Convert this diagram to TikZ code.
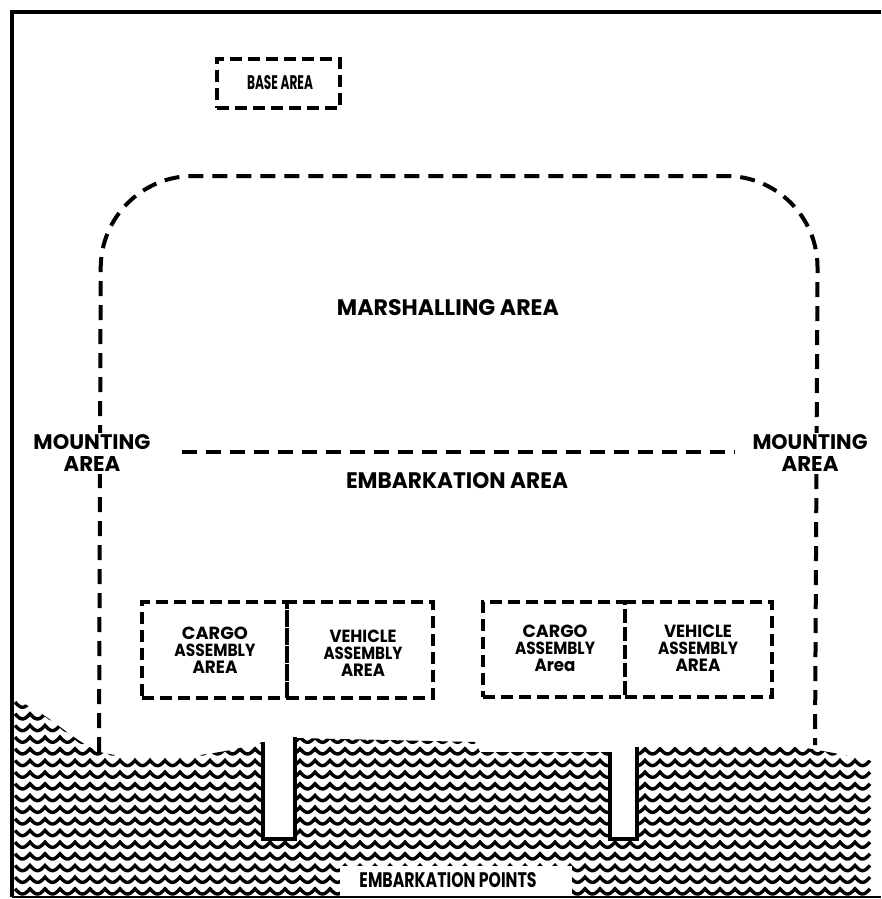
\documentclass[tikz,border=0pt]{standalone}
\usepackage{fontspec}
\usepackage{graphicx}
\setmainfont{Poppins}
\newcommand{\fitt}[3]{\resizebox{#1pt}{#2pt}{\bfseries #3}}
\begin{document}
\begin{tikzpicture}[x=1pt,y=-1pt,
  dbox/.style={draw, line width=3.6pt, dash pattern=on 12pt off 6pt, inner sep=0pt},
  bigdash/.style={draw, line width=4pt, dash pattern=on 15pt off 9pt},
  lab/.style={inner sep=0pt, align=center, font=\fontsize{12}{17}\selectfont},
  mlab/.style={fill=white, inner sep=2pt, align=center, font=\fontsize{15}{22}\selectfont},
  wave/.style={line width=3.4pt}]
\useasboundingbox (0,0) rectangle (881,899);
\fill[white] (0,0) rectangle (881,899);

% marshalling / mounting boundary
\coordinate (mbl) at (99,752);
\coordinate (mtl) at (101,176);
\coordinate (mtr) at (818,176);
\coordinate (mbr) at (815,745);
\draw[bigdash, rounded corners=92pt] (mbl) -- (mtl) -- (mtr) -- (mbr);
\coordinate (divl) at (182,452);
\coordinate (divr) at (735,452);
\draw[bigdash] (divl) -- (divr);

% water
\begin{scope}
\clip (12,700) .. controls (40,705) and (70,740) .. (100,752)
  .. controls (140,762) and (200,760) .. (263,742) -- (263,838) -- (295,838)
  -- (295,738) -- (475,742) -- (480,752) -- (610,752) -- (610,838) -- (637,838)
  -- (637,747) -- (800,747) .. controls (830,752) and (860,758) .. (877,762)
  -- (877,897) -- (12,897) -- cycle;
\foreach \k in {0,...,16}
  \draw[wave] plot[domain=15:870,samples=913] (\x,{894-11.67*\k-5.2*(1-abs(sin(12*\x)))});
\end{scope}
\fill[white] (340,866) rectangle (572,897);

% piers
\coordinate (p1a) at (263,742); \coordinate (p1b) at (263,839);
\coordinate (p1c) at (295,839); \coordinate (p1d) at (295,737);
\draw[line width=3.4pt] (p1a) -- (p1b) -- (p1c) -- (p1d);
\coordinate (p2a) at (610,752); \coordinate (p2b) at (610,839);
\coordinate (p2c) at (637,839); \coordinate (p2d) at (637,747);
\draw[line width=3.4pt] (p2a) -- (p2b) -- (p2c) -- (p2d);

% frame
\draw[line width=3.5pt] (881,12) -- (12,12) -- (12,897);
\draw[line width=2pt] (12,897) -- (881,897);

% boxes
\node[dbox, minimum width=123pt, minimum height=49pt] (base) at (278.5,83.5) {};
\node[dbox, minimum width=145pt, minimum height=96pt] (cargoL) at (214.5,650) {};
\node[dbox, minimum width=146pt, minimum height=96pt] (vehL) at (360,650) {};
\node[dbox, minimum width=142pt, minimum height=95pt] (cargoR) at (554,649.5) {};
\node[dbox, minimum width=147pt, minimum height=95pt] (vehR) at (698.5,649.5) {};

% labels
\node[inner sep=0pt] (tbase) at (280,83) {\fitt{66}{14}{BASE AREA}};
\node[inner sep=0pt] (tmarsh) at (448,308) {\fitt{222}{16}{MARSHALLING AREA}};
\node[inner sep=0pt] (temb) at (457,481) {\fitt{222}{16}{EMBARKATION AREA}};
\node[mlab] (tmountL) at (92,453) {\fitt{117}{15}{MOUNTING}\\\fitt{57}{15}{AREA}};
\node[mlab] (tmountR) at (810,453) {\fitt{115}{15}{MOUNTING}\\\fitt{57}{15}{AREA}};
\node[lab] (tcL) at (215,650) {\fitt{66}{12.5}{CARGO}\\\fitt{81}{12.5}{ASSEMBLY}\\\fitt{45}{12.5}{AREA}};
\node[lab] (tvL) at (363,653) {\fitt{67}{12.5}{VEHICLE}\\\fitt{79}{12.5}{ASSEMBLY}\\\fitt{44}{12.5}{AREA}};
\node[lab] (tcR) at (555,648) {\fitt{65}{12.5}{CARGO}\\\fitt{80}{12.5}{ASSEMBLY}\\\fitt{41}{12.5}{Area}};
\node[lab] (tvR) at (698,648) {\fitt{68}{12.5}{VEHICLE}\\\fitt{80}{12.5}{ASSEMBLY}\\\fitt{45}{12.5}{AREA}};
\node[inner sep=0pt] (tpoints) at (448,880) {\fitt{177}{15}{EMBARKATION POINTS}};
\end{tikzpicture}
\end{document}
